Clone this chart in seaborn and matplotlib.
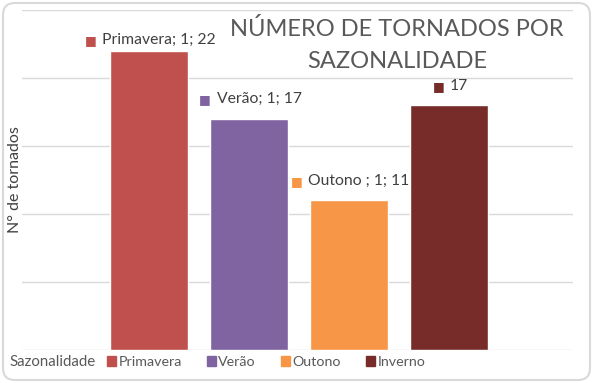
import pandas as pd
import matplotlib
matplotlib.use("Agg")
import matplotlib.pyplot as plt
import seaborn as sns
from matplotlib.patches import Patch, FancyBboxPatch
from matplotlib.offsetbox import TextArea, HPacker, AnnotationBbox

# dados
estacoes = ["Primavera", "Verão", "Outono", "Inverno"]
n_tornados = [22, 17, 11, 18]
rotulos = ["Primavera; 1; 22", "Verão; 1; 17", "Outono ; 1; 11", "17"]
cores = ["#C0504D", "#8064A2", "#F79646", "#772C2A"]

df = pd.DataFrame({"Sazonalidade": estacoes, "Tornados": n_tornados})

sns.set_style("white")
plt.rcParams["font.family"] = ["Lato", "DejaVu Sans"]

fig = plt.figure(figsize=(5.93, 3.83), dpi=100)
ax = fig.add_axes([22 / 593, 33 / 383, 551 / 593, 340 / 383])

sns.barplot(data=df, x="Sazonalidade", y="Tornados", hue="Sazonalidade",
            palette=cores, width=0.78, saturation=1, legend=False, ax=ax)

ax.set_xlim(-1.27, 4.24)
ax.set_ylim(0, 25)
ax.set_yticks(range(0, 26, 5))
ax.set_yticklabels([])
ax.set_xticks([])
ax.tick_params(length=0)
ax.yaxis.grid(True, color="#D9D9D9", lw=1)
ax.set_axisbelow(True)
ax.set_xlabel("")
ax.set_ylabel("")
for s in ax.spines.values():
    s.set_visible(False)

# rótulos de dados com o quadradinho da cor da série
desloc_y = [3, 9, 9, 9]
for p, txt, cor, dy in zip(ax.patches, rotulos, cores, desloc_y):
    cx = p.get_x() + p.get_width() / 2
    caixa = HPacker(children=[
        TextArea("■", textprops=dict(color=cor, fontsize=9)),
        TextArea(txt, textprops=dict(color="#404040", fontsize=11.3)),
    ], sep=4, align="center")
    ab = AnnotationBbox(caixa, (cx, p.get_height()), xybox=(1, dy),
                        boxcoords="offset points", frameon=False,
                        box_alignment=(0.5, 0))
    ax.add_artist(ab)

fig.text(397 / 593, 1 - 45 / 383, "NÚMERO DE TORNADOS POR\nSAZONALIDADE",
         ha="center", va="center", fontsize=17, color="#595959", linespacing=1.7)

fig.text(15 / 593, 1 - 180 / 383, "N° de tornados", rotation=90, ha="center",
         va="center", fontsize=11.5, color="#404040")
fig.text(9 / 593, 1 - 362 / 383, "Sazonalidade", ha="left", va="center",
         fontsize=10.8, color="#595959")

handles = [Patch(color=c) for c in cores]
fig.legend(handles, estacoes, loc="center left",
           bbox_to_anchor=(107 / 593, 1 - 362 / 383), ncol=4, frameon=False,
           handlelength=0.65, handleheight=0.65, handletextpad=0.15,
           columnspacing=1.75, fontsize=10.3, borderpad=0, borderaxespad=0,
           labelcolor="#595959")

fig.patches.append(FancyBboxPatch((0.03, 0.03), 5.87, 3.77,
                                  boxstyle="round,pad=0,rounding_size=0.12",
                                  transform=fig.dpi_scale_trans, fc="none",
                                  ec="#D9D9D9", lw=1.5))

fig.savefig("out.png", dpi=100)
